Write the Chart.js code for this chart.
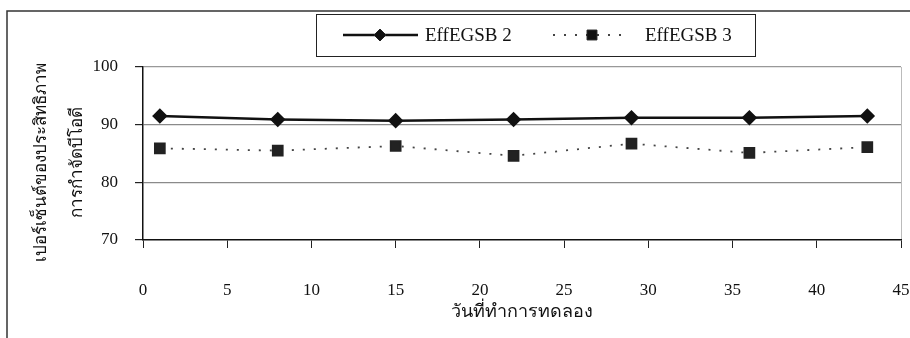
<!DOCTYPE html>
<html>
<head>
<meta charset="utf-8">
<script src="https://cdn.jsdelivr.net/npm/chart.js@4.4.1/dist/chart.umd.min.js"></script>
<style>
  html, body { margin: 0; padding: 0; background: #fff; }
  #wrap { width: 910px; height: 338px; }
</style>
</head>
<body>
<div id="wrap"><canvas id="chart" width="910" height="338"></canvas></div>
<script>
// days of the experiment
const days = [1, 8, 15, 22, 29, 36, 43];
const effEgsb2 = [91.5, 90.9, 90.7, 90.9, 91.2, 91.2, 91.5];
const effEgsb3 = [85.9, 85.5, 86.3, 84.6, 86.7, 85.1, 86.1];
const seriesNames = ['EffEGSB 2', 'EffEGSB 3'];
const xTicks = [0, 5, 10, 15, 20, 25, 30, 35, 40, 45];
const yTicks = [70, 80, 90, 100];
const xTitle = 'วันที่ทำการทดลอง';
const yTitleLines = ['เปอร์เซ็นต์ของประสิทธิภาพ', 'การกำจัดบีโอดี'];

const FONT = "'Liberation Serif', 'DejaVu Serif', serif";

const toPoints = (vals) => days.map((d, i) => ({ x: d, y: vals[i] }));

// frame, y title and boxed legend like the scanned excel chart
const decor = {
    id: 'decor',
    beforeDraw(chart) {
        const ctx = chart.ctx;
        ctx.save();
        ctx.fillStyle = '#fff';
        ctx.fillRect(0, 0, chart.width, chart.height);
        ctx.strokeStyle = '#333';
        ctx.lineWidth = 1.5;
        ctx.beginPath();
        ctx.moveTo(7, chart.height);
        ctx.lineTo(7, 11);
        ctx.lineTo(chart.width, 11);
        ctx.stroke();
        ctx.restore();
    },
    afterDraw(chart) {
        const ctx = chart.ctx;
        const area = chart.chartArea;
        ctx.save();

        // rotated y title, two lines
        ctx.fillStyle = '#111';
        ctx.font = '17px ' + FONT;
        ctx.textAlign = 'center';
        ctx.textBaseline = 'middle';
        const cy = (area.top + area.bottom) / 2 + 9;
        [42, 78].forEach((x, i) => {
            ctx.save();
            ctx.translate(x, cy);
            ctx.rotate(-Math.PI / 2);
            ctx.fillText(yTitleLines[i], 0, 0);
            ctx.restore();
        });

        // legend box
        ctx.strokeStyle = '#222';
        ctx.lineWidth = 1;
        ctx.strokeRect(316.5, 14.5, 439, 42);
        const ly = 35;
        const items = [
            { x0: 343, x1: 418, mx: 380, tx: 425 },
            { x0: 553, x1: 630, mx: 592, tx: 645 }
        ];
        chart.data.datasets.forEach((ds, i) => {
            const it = items[i];
            ctx.save();
            ctx.strokeStyle = ds.borderColor;
            ctx.lineWidth = ds.borderWidth;
            ctx.setLineDash(ds.borderDash || []);
            ctx.beginPath();
            ctx.moveTo(it.x0, ly);
            ctx.lineTo(it.x1, ly);
            ctx.stroke();
            ctx.restore();
            Chart.helpers.drawPoint(ctx, {
                pointStyle: ds.pointStyle,
                radius: ds.pointRadius,
                rotation: 0,
                borderWidth: 1
            }, it.mx, ly);
            ctx.fillStyle = '#111';
            ctx.font = '19px ' + FONT;
            ctx.textAlign = 'left';
            ctx.textBaseline = 'middle';
            ctx.fillText(ds.label, it.tx, ly + 1);
        });
        ctx.restore();
    }
};

const ctx = document.getElementById('chart').getContext('2d');
ctx.fillStyle = '#000';
ctx.strokeStyle = '#000';

new Chart(ctx, {
    type: 'line',
    data: {
        datasets: [
            {
                label: seriesNames[0],
                data: toPoints(effEgsb2),
                borderColor: '#111',
                backgroundColor: '#111',
                borderWidth: 2.5,
                pointStyle: 'rectRot',
                pointRadius: 6,
                pointBorderColor: '#111',
                pointBackgroundColor: '#111'
            },
            {
                label: seriesNames[1],
                data: toPoints(effEgsb3),
                borderColor: '#444',
                backgroundColor: '#222',
                borderWidth: 1.8,
                borderDash: [2, 9],
                pointStyle: 'rect',
                pointRadius: 7,
                pointBorderColor: '#222',
                pointBackgroundColor: '#222'
            }
        ]
    },
    options: {
        responsive: false,
        animation: false,
        devicePixelRatio: 1,
        layout: { padding: { top: 67, right: 9, left: 0, bottom: 0 } },
        plugins: {
            legend: { display: false },
            tooltip: { enabled: false }
        },
        scales: {
            x: {
                type: 'linear',
                min: 0,
                max: 45,
                afterBuildTicks: (scale) => { scale.ticks = xTicks.map((v) => ({ value: v })); },
                afterFit: (scale) => {
                    scale.height = 98;
                    scale.paddingLeft = 0;
                    scale.paddingRight = 0;
                },
                border: { color: '#111', width: 1.5 },
                grid: {
                    color: (c) => (c.tick && c.tick.value === 45 ? '#bbb' : 'rgba(0,0,0,0)'),
                    tickColor: '#222',
                    tickLength: 8,
                    lineWidth: 1
                },
                ticks: {
                    color: '#111',
                    font: { family: FONT, size: 17 },
                    padding: 32,
                    maxRotation: 0,
                    autoSkip: false
                },
                title: {
                    display: true,
                    text: xTitle,
                    color: '#111',
                    font: { family: FONT, size: 18 },
                    padding: { top: 0, bottom: 15 }
                }
            },
            y: {
                min: 70,
                max: 100,
                afterBuildTicks: (scale) => { scale.ticks = yTicks.map((v) => ({ value: v })); },
                afterFit: (scale) => { scale.width = 143; },
                border: { color: '#111', width: 1.5 },
                grid: {
                    color: (c) => (c.tick && c.tick.value === 70 ? 'rgba(0,0,0,0)' : (c.tick.value === 100 ? '#999' : '#8a8a8a')),
                    tickColor: '#222',
                    tickLength: 8,
                    lineWidth: 1.2
                },
                ticks: {
                    color: '#111',
                    font: { family: FONT, size: 17 },
                    padding: 17
                }
            }
        }
    },
    plugins: [decor]
});
</script>
</body>
</html>
